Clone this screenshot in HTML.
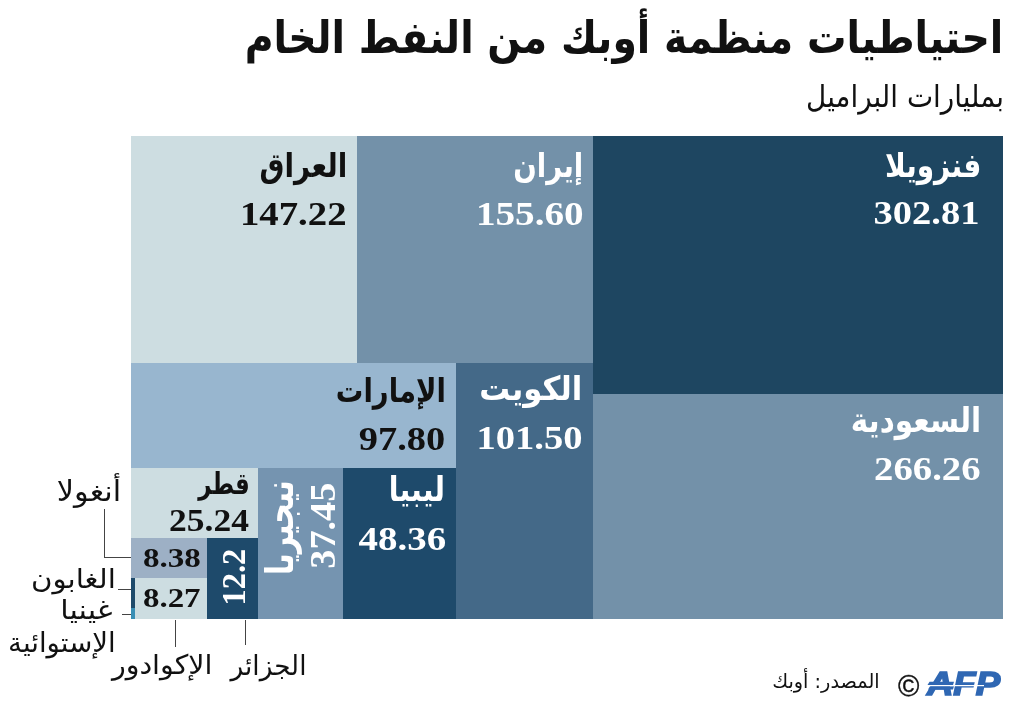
<!DOCTYPE html>
<html lang="ar">
<head>
<meta charset="utf-8">
<title>احتياطيات منظمة أوبك من النفط الخام</title>
<style>
html,body{margin:0;padding:0;background:#fff;}
body{width:1020px;height:716px;position:relative;overflow:hidden;font-family:"Liberation Serif","DejaVu Sans",sans-serif;color:#111;}
.b{position:absolute;}
.t{position:absolute;white-space:nowrap;line-height:1;color:#111;}
.ar{font-family:"DejaVu Sans",sans-serif;direction:rtl;}
.arb{font-family:"DejaVu Sans",sans-serif;direction:rtl;font-weight:bold;}
.num{font-family:"Liberation Serif",serif;font-weight:bold;direction:ltr;}
.w{color:#fff;}
.ln{position:absolute;background:#444;}
</style>
</head>
<body>
<!-- treemap blocks -->
<div class="b" style="left:131px;top:136px;width:226px;height:227px;background:#cddde1"></div>
<div class="b" style="left:357px;top:136px;width:236px;height:227px;background:#7391a9"></div>
<div class="b" style="left:593px;top:136px;width:409.5px;height:258px;background:#1e4661"></div>
<div class="b" style="left:593px;top:394px;width:409.5px;height:224.5px;background:#7391a9"></div>
<div class="b" style="left:131px;top:363px;width:325px;height:104.5px;background:#98b6cf"></div>
<div class="b" style="left:456px;top:363px;width:137px;height:255.5px;background:#446988"></div>
<div class="b" style="left:343px;top:467.5px;width:113px;height:151px;background:#1e4a6b"></div>
<div class="b" style="left:258px;top:467.5px;width:85px;height:151px;background:#7594b0"></div>
<div class="b" style="left:131px;top:467.5px;width:127px;height:70px;background:#cddde1"></div>
<div class="b" style="left:131px;top:537.5px;width:76px;height:40px;background:#9db0c5"></div>
<div class="b" style="left:131px;top:577.5px;width:76px;height:41px;background:#cddde1"></div>
<div class="b" style="left:207px;top:537.5px;width:51px;height:81px;background:#1e4a6b"></div>
<div class="b" style="left:131px;top:577.5px;width:4px;height:30px;background:#1e4a6b"></div>
<div class="b" style="left:131px;top:607.5px;width:4px;height:11px;background:#3a8fb5"></div>

<!-- leader lines -->
<div class="ln" style="left:103.5px;top:509px;width:1px;height:49px"></div>
<div class="ln" style="left:103.5px;top:557px;width:27.5px;height:1px"></div>
<div class="ln" style="left:117.5px;top:588.5px;width:13.5px;height:1px"></div>
<div class="ln" style="left:121.5px;top:614.4px;width:9.5px;height:1px"></div>
<div class="ln" style="left:175.3px;top:620px;width:1px;height:27px"></div>
<div class="ln" style="left:245.3px;top:620px;width:1px;height:25px"></div>

<!-- text labels -->
<div class="t arb" id="title" style="left:244.7px;top:19.9px;font-size:39.4px;transform-origin:379.0px 33.1px;transform:scale(1,1.136);">احتياطيات منظمة أوبك من النفط الخام</div>
<div class="t ar" id="sub" style="left:806.1px;top:84.4px;font-size:27.8px;transform-origin:98.9px 23.4px;transform:scale(1,1.111);">بمليارات البراميل</div>
<div class="t arb" id="n_iraq" style="left:259.6px;top:153.6px;font-size:27.9px;transform-origin:43.4px 23.4px;transform:scale(1,1.202);">العراق</div>
<div class="t num" id="v_iraq" style="left:239.9px;top:194.4px;font-size:38.8px;transform-origin:54.1px 19.6px;transform:scale(1,0.885);">147.22</div>
<div class="t arb w" id="n_iran" style="left:513.3px;top:153.8px;font-size:27.6px;transform-origin:34.7px 23.2px;transform:scale(1,1.215);">إيران</div>
<div class="t num w" id="v_iran" style="left:475.9px;top:194.0px;font-size:39.2px;transform-origin:54.6px 20.0px;transform:scale(1,0.864);">155.60</div>
<div class="t arb w" id="n_ven" style="left:884.9px;top:153.5px;font-size:28.0px;transform-origin:47.6px 23.5px;transform:scale(1,1.198);">فنزويلا</div>
<div class="t num w" id="v_ven" style="left:873.5px;top:194.3px;font-size:38.5px;transform-origin:52.8px 19.7px;transform:scale(1,0.878);">302.81</div>
<div class="t arb w" id="n_sau" style="left:850.7px;top:408.3px;font-size:29.5px;transform-origin:65.0px 24.7px;transform:scale(1,1.161);">السعودية</div>
<div class="t num w" id="v_sau" style="left:874.1px;top:450.4px;font-size:38.7px;transform-origin:53.4px 19.9px;transform:scale(1,0.876);">266.26</div>
<div class="t arb" id="n_uae" style="left:335.8px;top:378.9px;font-size:27.5px;transform-origin:54.8px 23.1px;transform:scale(1,1.219);">الإمارات</div>
<div class="t num" id="v_uae" style="left:358.8px;top:419.2px;font-size:38.4px;transform-origin:43.0px 19.8px;transform:scale(1,0.894);">97.80</div>
<div class="t arb w" id="n_kuw" style="left:479.2px;top:374.7px;font-size:30.7px;transform-origin:51.3px 25.8px;transform:scale(1,1.083);">الكويت</div>
<div class="t num w" id="v_kuw" style="left:476.4px;top:418.1px;font-size:38.6px;transform-origin:53.8px 19.7px;transform:scale(1,0.880);">101.50</div>
<div class="t arb w" id="n_lib" style="left:388.7px;top:478.1px;font-size:28.5px;transform-origin:28.0px 23.9px;transform:scale(1,1.179);">ليبيا</div>
<div class="t num w" id="v_lib" style="left:358.6px;top:519.0px;font-size:38.9px;transform-origin:43.4px 20.0px;transform:scale(1,0.882);">48.36</div>
<div class="t arb" id="n_qat" style="left:198.2px;top:475.0px;font-size:22.9px;transform-origin:24.4px 19.3px;transform:scale(1,1.308);">قطر</div>
<div class="t num" id="v_qat" style="left:169.1px;top:503.0px;font-size:35.5px;transform-origin:40.3px 18.1px;transform:scale(1,0.887);">25.24</div>
<div class="t num" id="v_ang" style="left:143.0px;top:541.7px;font-size:33.1px;transform-origin:29.0px 17.1px;transform:scale(1,0.800);">8.38</div>
<div class="t num" id="v_ecu" style="left:143.0px;top:582.0px;font-size:32.9px;transform-origin:29.0px 17.0px;transform:scale(1,0.816);">8.27</div>
<div class="t arb w" id="n_nig" style="left:235.9px;top:510.8px;font-size:28.8px;transform-origin:47.3px 16.7px;transform:rotate(-90deg) scale(1,1.335);">نيجيريا</div>
<div class="t num w" id="v_nig" style="left:280.7px;top:505.8px;font-size:38.2px;transform-origin:43.0px 19.7px;transform:rotate(-90deg) scale(1,0.917);">37.45</div>
<div class="t num w" id="v_alg" style="left:204.6px;top:560.1px;font-size:32.5px;transform-origin:29.1px 16.4px;transform:rotate(-90deg) scale(1,1.033);">12.2</div>
<div class="t ar" id="n_ang" style="left:56.8px;top:475.8px;font-size:30.3px;transform-origin:32.0px 25.4px;transform:scale(1,0.938);">أنغولا</div>
<div class="t ar" id="n_gab" style="left:30.9px;top:563.9px;font-size:29.3px;transform-origin:42.1px 24.6px;transform:scale(1,0.920);">الغابون</div>
<div class="t ar" id="n_gui" style="left:60.3px;top:594.1px;font-size:30.2px;transform-origin:27.2px 25.4px;transform:scale(1,0.892);">غينيا</div>
<div class="t ar" id="n_equ" style="left:8.1px;top:629.0px;font-size:27.6px;">الإستوائية</div>
<div class="t ar" id="n_ecu" style="left:111.9px;top:650.8px;font-size:28.5px;transform-origin:48.5px 23.9px;transform:scale(1,0.946);">الإكوادور</div>
<div class="t ar" id="n_alg" style="left:230.5px;top:652.6px;font-size:26.3px;transform-origin:36.1px 22.1px;transform:scale(1,1.026);">الجزائر</div>
<div class="t ar" id="src" style="left:772.2px;top:671.8px;font-size:19.3px;transform-origin:53.6px 16.2px;transform:scale(1,1.023);">المصدر: أوبك</div>

<!-- copyright + logo -->
<div class="t" id="copy" style="left:898px;top:671.5px;font-family:'Liberation Sans',sans-serif;font-size:29px;-webkit-text-stroke:0.4px #111;">&copy;</div>
<svg id="afp" style="position:absolute;left:924px;top:668px" width="80" height="30" viewBox="0 0 80 30">
  <text x="3" y="26.5" font-family="Liberation Sans, sans-serif" font-weight="bold" font-style="italic" font-size="33" fill="#2f67b3" stroke="#2f67b3" stroke-width="1.6" textLength="73" lengthAdjust="spacingAndGlyphs">AFP</text>
  <polygon points="5.5,13.8 30,13.8 29,17 3.5,17" fill="#2f67b3"/>
  <polygon points="6,18.2 30,18.2 29,21.4 4,21.4" fill="#2f67b3"/>
  <rect x="2" y="17" width="58" height="1.2" fill="#fff"/>
</svg>
</body>
</html>
